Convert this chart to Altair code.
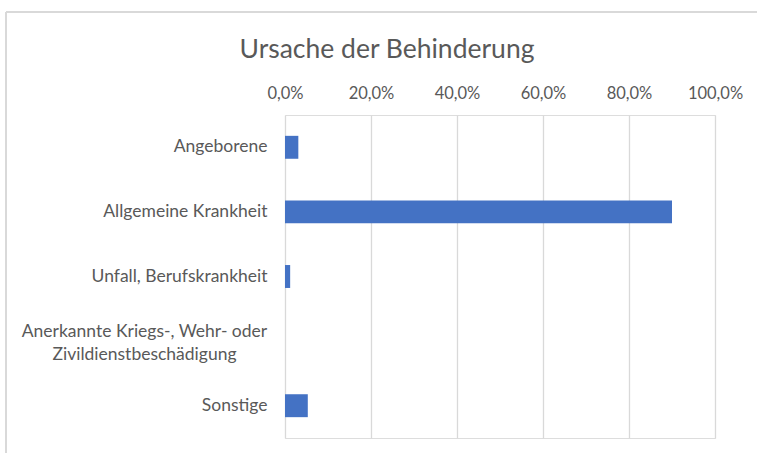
import altair as alt
import pandas as pd

categories = [
    "Angeborene",
    "Allgemeine Krankheit",
    "Unfall, Berufskrankheit",
    "Anerkannte Kriegs-, Wehr- oder Zivildienstbeschädigung",
    "Sonstige",
]
shares = [0.031, 0.900, 0.012, 0.0, 0.053]
x_ticks = [0, 0.2, 0.4, 0.6, 0.8, 1.0]
wrapped_category = categories[3]
wrapped_lines = ["Anerkannte Kriegs-, Wehr- oder", "Zivildienstbeschädigung"]

df = pd.DataFrame({"Ursache": categories, "Anteil": shares})

FONT = "Lato"
GRAY = "#595959"
GRID = "#d9d9d9"

label_expr = f"datum.value == '{wrapped_category}' ? '' : datum.value"

y_enc = alt.Y(
    "Ursache:N",
    sort=categories,
    scale=alt.Scale(paddingInner=0.645),
    axis=alt.Axis(
        title=None,
        domain=False,
        ticks=False,
        grid=False,
        labelExpr=label_expr,
        labelPadding=18,
        labelFont=FONT,
        labelFontSize=17.5,
        labelColor=GRAY,
        labelLimit=400,
    ),
)

bars = alt.Chart(df).mark_bar(color="#4472C4").encode(
    x=alt.X(
        "Anteil:Q",
        scale=alt.Scale(domain=[0, 1], nice=False),
        axis=alt.Axis(
            orient="top",
            values=x_ticks,
            labelExpr="replace(format(datum.value*100, '.1f'), '.', ',') + '%'",
            title=None,
            domain=False,
            ticks=False,
            labelFlush=False,
            labelPadding=14,
            labelFont=FONT,
            labelFontSize=16.5,
            labelColor=GRAY,
            gridColor=GRID,
            gridWidth=1.3,
        ),
    ),
    y=y_enc,
)

wrapped_label = (
    alt.Chart(df)
    .transform_filter(alt.datum.Ursache == wrapped_category)
    .transform_calculate(lbl=f"['{wrapped_lines[0]}', '{wrapped_lines[1]}']")
    .mark_text(
        font=FONT,
        fontSize=17.5,
        color=GRAY,
        align="center",
        baseline="middle",
        lineHeight=23,
        dy=-9,
    )
    .encode(x=alt.value(-140.5), y=y_enc, text="lbl:N")
)

border_top = alt.Chart(df).mark_rule(color=GRID, strokeWidth=1.5).encode(
    x=alt.value(-279), x2=alt.value(472), y=alt.value(-103)
)
border_left = alt.Chart(df).mark_rule(color=GRID, strokeWidth=1.5).encode(
    x=alt.value(-279), y=alt.value(-103), y2=alt.value(338)
)

chart = (
    alt.layer(border_top, border_left, bars, wrapped_label)
    .properties(
        width=430,
        height=323,
        padding={"left": 285, "top": 115, "right": 42, "bottom": 15},
        autosize=alt.AutoSizeParams(type="none"),
        title=alt.TitleParams(
            "Ursache der Behinderung",
            font=FONT,
            fontSize=26.5,
            fontWeight="normal",
            color=GRAY,
            anchor="middle",
            frame="group",
            dx=-113,
            offset=-52,
        ),
    )
    .configure_view(stroke=None)
    .configure(background="white")
)

chart.save("out.html", embed_options={"renderer": "svg", "actions": False})
